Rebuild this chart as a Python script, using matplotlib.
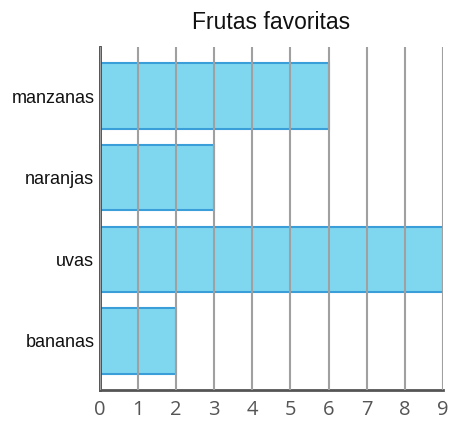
import matplotlib.pyplot as plt

# data
frutas = ['manzanas', 'naranjas', 'uvas', 'bananas']
cantidad = [6, 3, 9, 2]
x_ticks = list(range(0, 10))


def main():
    fig = plt.figure(figsize=(4.52, 4.21), dpi=100)
    ax = fig.add_axes([0.221, 0.074, 0.759, 0.814])

    pos = list(range(len(frutas)))
    ax.barh(pos, cantidad, height=0.8, color='#7fd7ef', edgecolor='#3a9ed8',
            linewidth=1.5, zorder=2)

    ax.set_yticks(pos)
    ax.set_yticklabels(frutas, fontsize=13, family='Liberation Sans', color='#111')
    ax.set_ylim(len(frutas) - 1 + 0.6, -0.6)

    ax.set_xlim(0, 9)
    ax.set_xticks(x_ticks)
    ax.set_xticklabels([str(t) for t in x_ticks], fontsize=14.5, family='Open Sans',
                       color='#555')

    ax.tick_params(axis='both', length=0)
    ax.tick_params(axis='y', pad=4)
    ax.tick_params(axis='x', pad=7)

    # vertical grid drawn above the bars
    ax.grid(axis='x', color='#a0a0a0', linewidth=1.5, zorder=3)
    ax.set_axisbelow(False)
    ax.grid(axis='y', visible=False)

    for side in ['top', 'right']:
        ax.spines[side].set_visible(False)
    ax.spines['left'].set_color('#444')
    ax.spines['left'].set_linewidth(2)
    ax.spines['bottom'].set_color('#555')
    ax.spines['bottom'].set_linewidth(2)

    ax.set_title('Frutas favoritas', fontsize=16.5, family='Liberation Sans',
                 color='#111', pad=13)

    fig.savefig('out.png', dpi=100)


if __name__ == "__main__":
    main()
